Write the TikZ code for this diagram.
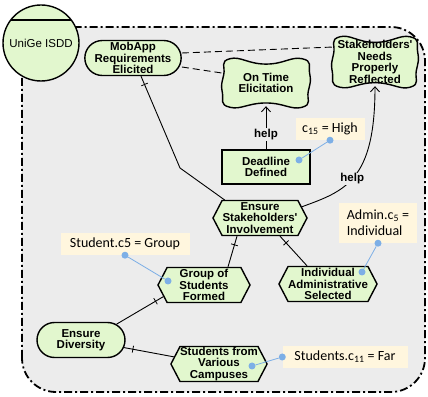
\documentclass[tikz,border=0pt]{standalone}
\usepackage{fontspec}
\newfontfamily\labelfont{Liberation Sans}
\newfontfamily\notefont{Carlito}
\usetikzlibrary{positioning, arrows.meta, shapes.misc, shapes.symbols, decorations.markings}

\definecolor{goalgreen}{RGB}{226,247,206}
\definecolor{boundgray}{RGB}{236,236,236}
\definecolor{notecream}{RGB}{255,246,222}
\definecolor{linkblue}{RGB}{125,175,230}

\tikzset{
  bound/.style={draw, fill=boundgray, line width=1.8pt, dash pattern=on 8pt off 3pt on 2pt off 3pt, rounded corners=34pt},
  actor/.style={circle, draw, line width=1.4pt, fill=goalgreen, minimum size=76pt, inner sep=0pt, outer sep=0pt, font=\labelfont\fontsize{11.5}{11.5}\selectfont},
  goal/.style={rounded rectangle, draw, line width=1.4pt, fill=goalgreen, minimum width=88pt, minimum height=35pt, inner sep=0pt, align=center, font=\labelfont\bfseries\fontsize{11.5}{11.5}\selectfont},
  soft/.style={inner sep=0pt, align=center, font=\labelfont\bfseries\fontsize{11.5}{11.5}\selectfont},
  sgline/.style={draw, line width=1.4pt, fill=goalgreen},
  task/.style={signal, signal to=west and east, signal pointer angle=125, draw, line width=1.4pt, fill=goalgreen, minimum width=92pt, minimum height=35pt, inner sep=0pt, align=center, font=\labelfont\bfseries\fontsize{11.5}{11.5}\selectfont},
  resource/.style={rectangle, draw, line width=1.4pt, fill=goalgreen, minimum width=88pt, minimum height=34pt, inner sep=0pt, align=center, font=\labelfont\bfseries\fontsize{11.5}{11.5}\selectfont},
  note/.style={rectangle, fill=notecream, minimum height=22pt, inner sep=2pt, font=\notefont\fontsize{14}{16}\selectfont},
  dot/.style={circle, fill=linkblue, inner sep=0pt, minimum size=7pt},
  anno/.style={draw=linkblue, line width=0.8pt},
  corr/.style={line width=0.9pt, dash pattern=on 7pt off 4pt},
  contrib/.style={line width=0.9pt},
  lab/.style={fill=boundgray, inner sep=1pt, font=\labelfont\bfseries\fontsize{11.5}{11.5}\selectfont},
  dec/.style={line width=0.9pt, postaction={decorate, decoration={markings, mark=at position 9pt with {\draw[line width=0.8pt] (0,-3.5pt) -- (0,3.5pt);}}}}
}

% softgoal: name, centre, half width, half height, text
\newcommand{\softgoal}[5]{%
  \draw[sgline, shift={#2}] plot[smooth cycle, tension=0.9] coordinates
    {(-0.8*#3,0.9*#4) (0,0.7*#4) (0.8*#3,0.9*#4) (0.97*#3,0.35*#4) (0.94*#3,-0.3*#4)
     (0.8*#3,-0.9*#4) (0,-0.74*#4) (-0.8*#3,-0.9*#4) (-0.97*#3,-0.35*#4) (-0.94*#3,0.3*#4)};
  \node[soft, minimum width=2*#3, minimum height=2*#4] (#1) at #2 {#5};}

\begin{document}
\begin{tikzpicture}[x=1pt, y=1pt, on grid, >={Straight Barb[length=5pt,width=9pt]}]
  \useasboundingbox (0,0) rectangle (428,396);
  \draw[bound] (22,4) rectangle (425,369);
  \node[actor] (isdd) at (41,353) {UniGe ISDD};
  \draw[line width=1.4pt] (isdd.37) -- (isdd.143);

  % goals and softgoals
  \node[goal] (mobapp) at (133,338) {MobApp\\Requirements\\Elicited};
  \softgoal{ontime}{(266,313)}{45}{27}{On Time\\Elicitation}
  \softgoal{needs}{(375,334)}{44}{28}{Stakeholders'\\Needs\\Properly\\Reflected}
  \node[goal] (diversity) at (81,56) {Ensure\\Diversity};

  % tasks
  \node[resource] (deadline) [below=84pt of ontime] {Deadline\\Defined};
  \node[task, minimum width=94pt] (ensure) [below left=51pt and 6pt of deadline] {Ensure\\Stakeholders'\\Involvement};
  \node[task] (group) [below left=67pt and 56pt of ensure] {Group of\\Students\\Formed};
  \node[task, minimum width=93pt] (indiv) [below right=66pt and 68pt of ensure] {Individual\\Administrative\\Selected};
  \node[task] (campuses) at (219,32) {Students from\\Various\\Campuses};

  % notes
  \node[note, minimum width=69pt] (n_c15) [above right=38pt and 64pt of deadline] {c\textsubscript{15} = High};
  \node[note, minimum width=129pt] (n_student) at (125,152) {Student.c5 = Group};
  \node[note, minimum width=78pt, minimum height=40pt, align=left] (n_admin) at (378,173) {Admin.c\textsubscript{5} =\\Individual};
  \node[note, minimum width=125pt] (n_students) at (345,39) {Students.c\textsubscript{11} = Far};

  % links
  \draw[corr] ([yshift=5pt]mobapp.east) -- ([xshift=3pt,yshift=15pt]needs.west);
  \draw[corr] ([yshift=-9pt]mobapp.east) -- ([xshift=1pt,yshift=10pt]ontime.west);
  \path[->, contrib]
    (deadline) edge node[lab, pos=0.35] {help} ([yshift=4pt]ontime.south);
  \draw[->, contrib] (ensure.15) .. controls (345,205) and (375,215) .. ([yshift=4pt]needs.south)
    node[lab, pos=0.47] {help};

  \coordinate (kink) at (180,228);
  \draw[dec] ([xshift=8pt]mobapp.south) -- (kink) -- (ensure.153);
  \draw[dec] ([xshift=-23pt]ensure.south) -- ([xshift=24pt]group.north);
  \draw[dec] ([xshift=20pt]ensure.south) -- ([xshift=-21pt]indiv.north);
  \draw[dec] (group.196) -- (diversity.24);
  \draw[dec] (diversity.-10) -- (campuses.171);

  % annotation dots
  \node[dot] (d_c15) at (n_c15.south) {};
  \node[dot] (d_dead) [above right=7pt and 33pt of deadline] {};
  \node[dot] (d_student) at (n_student.south) {};
  \node[dot] (d_group) [above left=4pt and 36pt of group] {};
  \node[dot] (d_admin) at (n_admin.south) {};
  \node[dot] (d_indiv) [above right=12pt and 34pt of indiv] {};
  \node[dot] (d_students) at (n_students.west) {};
  \node[dot] (d_camp) [below right=2pt and 33pt of campuses] {};
  \draw[anno] (d_c15) -- (d_dead);
  \draw[anno] (d_student) -- (d_group);
  \draw[anno] (d_admin) -- (d_indiv);
  \draw[anno] (d_students) -- (d_camp);
\end{tikzpicture}
\end{document}
